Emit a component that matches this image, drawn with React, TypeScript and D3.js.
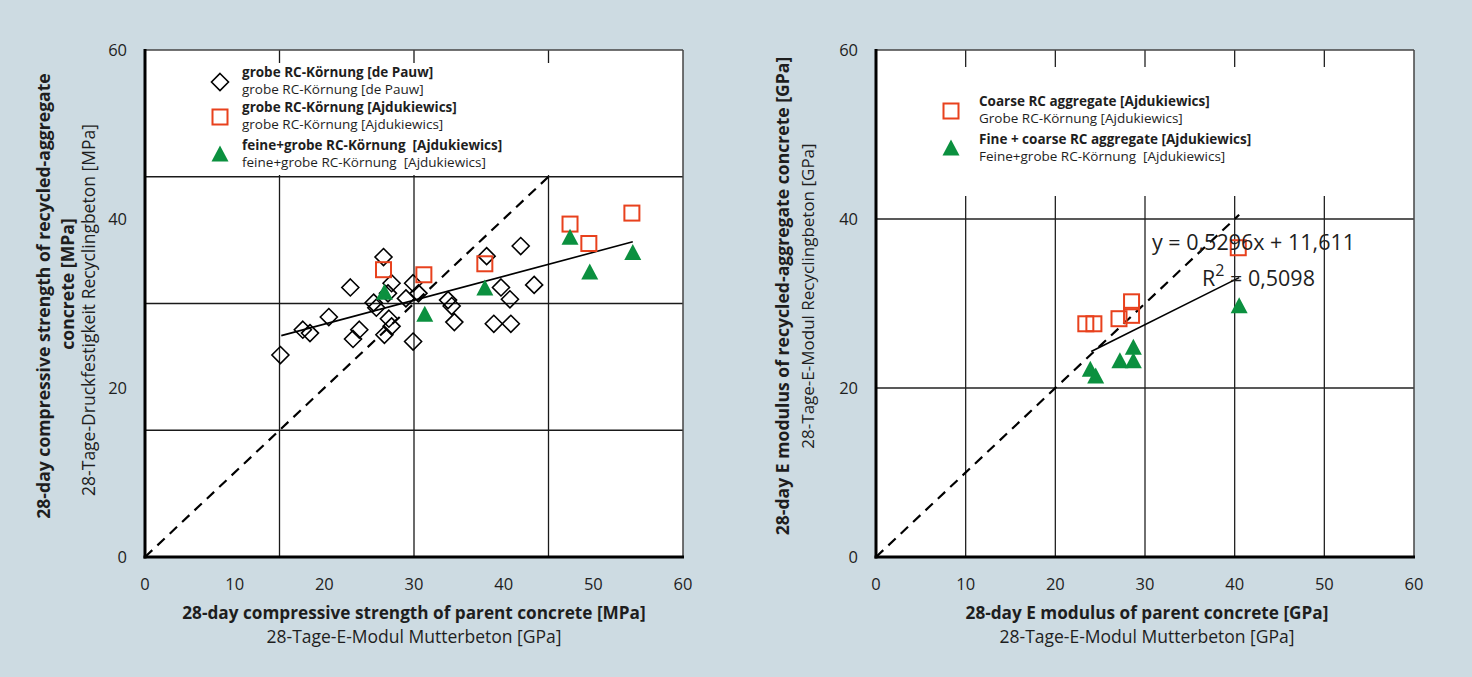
import React from "react";
import * as d3 from "d3";

// ---------- data ----------
// Left chart: 28-day compressive strength, parent vs recycled concrete [MPa]
const leftDePauw: [number, number][] = [
  [15.1, 23.9], [17.6, 26.9], [18.4, 26.5], [20.5, 28.4], [22.9, 31.9],
  [23.2, 25.8], [23.9, 26.9], [25.5, 30.1], [25.8, 29.5], [26.6, 35.5],
  [27.5, 32.4], [27.1, 31.2], [27.2, 28.2], [27.5, 27.3], [26.7, 26.3],
  [29.1, 30.6], [29.9, 32.4], [30.5, 31.2], [29.9, 25.5], [33.8, 30.4],
  [34.2, 29.7], [34.5, 27.8], [38.1, 35.6], [39.7, 31.9], [40.7, 30.5],
  [38.9, 27.6], [40.8, 27.6], [41.9, 36.8], [43.4, 32.2],
];
const leftCoarse: [number, number][] = [
  [26.6, 34.0], [31.1, 33.4], [37.9, 34.7], [47.4, 39.4], [49.5, 37.1], [54.3, 40.7],
];
const leftFineCoarse: [number, number][] = [
  [26.7, 31.2], [31.2, 28.6], [37.9, 31.7], [47.4, 37.7], [49.6, 33.6], [54.4, 35.9],
];
const leftTrend: [number, number][] = [[15.2, 26.2], [54.4, 37.3]];
const leftIdentity: [number, number][] = [[0, 0], [45, 45]];

// Right chart: 28-day E modulus [GPa]
const rightCoarse: [number, number][] = [
  [23.4, 27.6], [24.3, 27.6], [27.1, 28.2], [28.5, 30.2], [28.5, 28.6], [40.4, 36.6],
];
const rightFineCoarse: [number, number][] = [
  [23.9, 22.1], [24.5, 21.3], [27.2, 23.1], [28.7, 23.1], [28.7, 24.7], [40.5, 29.6],
];
const rightSlope = 0.5296;
const rightIntercept = 11.611;
const rightTrendX: [number, number] = [24, 40.5];
const rightIdentity: [number, number][] = [[0, 0], [40.5, 40.5]];

const xTicks = [0, 10, 20, 30, 40, 50, 60];
const yTicks = [0, 20, 40, 60];
const leftGrid = [15, 30, 45];
const rightGridX = [10, 20, 30, 40, 50];
const rightGridY = [20, 40];

const leftLegend = [
  { kind: "diamond", bold: "grobe RC-Körnung [de Pauw]", reg: "grobe RC-Körnung [de Pauw]" },
  { kind: "square", bold: "grobe RC-Körnung [Ajdukiewics]", reg: "grobe RC-Körnung [Ajdukiewics]" },
  { kind: "triangle", bold: "feine+grobe RC-Körnung  [Ajdukiewics]", reg: "feine+grobe RC-Körnung  [Ajdukiewics]" },
];
const rightLegend = [
  { kind: "square", bold: "Coarse RC aggregate [Ajdukiewics]", reg: "Grobe RC-Körnung [Ajdukiewics]" },
  { kind: "triangle", bold: "Fine + coarse RC aggregate [Ajdukiewics]", reg: "Feine+grobe RC-Körnung  [Ajdukiewics]" },
];

const FONT = "'Open Sans', Roboto, sans-serif";
const BG = "#cddbe2";
const RED = "#e8411d";
const GREEN = "#0b903f";
const TXT = "#1e1e1e";

function Marker({ kind, x, y }: { kind: string; x: number; y: number }) {
  if (kind === "diamond") {
    const r = 8.5;
    return (
      <path
        d={`M${x},${y - r}L${x + r},${y}L${x},${y + r}L${x - r},${y}Z`}
        fill="none"
        stroke="#000"
        strokeWidth={1.6}
      />
    );
  }
  if (kind === "square") {
    const s = 15;
    return <rect x={x - s / 2} y={y - s / 2} width={s} height={s} fill="none" stroke={RED} strokeWidth={2} />;
  }
  const w = 17, h = 16;
  return (
    <path
      d={`M${x},${y - h * 0.6}L${x + w / 2},${y + h * 0.4}L${x - w / 2},${y + h * 0.4}Z`}
      fill={GREEN}
    />
  );
}

type PanelProps = {
  x0: number;
  x1: number;
  y0: number;
  y1: number;
  gridX: number[];
  gridY: number[];
  gridColor: string;
  legendTop: number;
  legendBottom: number;
  children: (xs: d3.ScaleLinear<number, number>, ys: d3.ScaleLinear<number, number>) => React.ReactNode;
};

function Panel({ x0, x1, y0, y1, gridX, gridY, gridColor, legendTop, legendBottom, children }: PanelProps) {
  const xs = d3.scaleLinear().domain([0, 60]).range([x0, x1]);
  const ys = d3.scaleLinear().domain([0, 60]).range([y1, y0]);
  return (
    <g>
      <rect x={x0} y={y0} width={x1 - x0} height={y1 - y0} fill="#fff" />
      {gridX.map((g) => (
        <line key={"gx" + g} x1={xs(g)} x2={xs(g)} y1={y0} y2={y1} stroke={gridColor} strokeWidth={1.3} />
      ))}
      {gridY.map((g) => (
        <line key={"gy" + g} x1={x0} x2={x1} y1={ys(g)} y2={ys(g)} stroke={gridColor} strokeWidth={1.3} />
      ))}
      <rect x={x0 + 2} y={legendTop} width={x1 - x0 - 4} height={legendBottom - legendTop} fill="#fff" />
      {/* frame */}
      <line x1={x0} x2={x1} y1={y0} y2={y0} stroke="#444" strokeWidth={1.5} />
      <line x1={x1} x2={x1} y1={y0} y2={y1} stroke="#444" strokeWidth={1.5} />
      {children(xs, ys)}
      <line x1={x0} x2={x0} y1={y0 - 1} y2={y1 + 1.5} stroke="#000" strokeWidth={3} />
      <line x1={x0 - 1.5} x2={x1 + 1} y1={y1} y2={y1} stroke="#000" strokeWidth={3} />
      {xTicks.map((t) => (
        <text key={"xt" + t} x={xs(t)} y={590} textAnchor="middle" fontSize={16.5} fill={TXT} fontFamily={FONT}>
          {t}
        </text>
      ))}
      {yTicks.map((t) => (
        <text key={"yt" + t} x={x0 - 18} y={ys(t) + 6} textAnchor="end" fontSize={16.5} fill={TXT} fontFamily={FONT}>
          {t}
        </text>
      ))}
    </g>
  );
}

function Legend({ items, mx, tx, rows }: { items: typeof leftLegend; mx: number; tx: number; rows: number[] }) {
  return (
    <g fontFamily={FONT} fontSize={13.5} fill={TXT}>
      {items.map((it, i) => (
        <g key={i}>
          <Marker kind={it.kind} x={mx} y={rows[i] + 5} />
          <text x={tx} y={rows[i]} fontWeight="bold" xmlSpace="preserve">
            {it.bold}
          </text>
          <text x={tx} y={rows[i] + 16.5} xmlSpace="preserve">
            {it.reg}
          </text>
        </g>
      ))}
    </g>
  );
}

export default function App() {
  const line = d3.line<[number, number]>();
  return (
    <svg width={1472} height={677} style={{ position: "absolute", left: 0, top: 0 }}>
      <rect x={0} y={0} width={1472} height={677} fill={BG} />

      {/* LEFT PANEL */}
      <Panel x0={145} x1={683} y0={50} y1={557} gridX={leftGrid} gridY={leftGrid} gridColor="#1a1a1a" legendTop={63} legendBottom={175}>
        {(xs, ys) => (
          <g>
            <path
              d={line(leftIdentity.map(([a, b]) => [xs(a), ys(b)]) as [number, number][]) || ""}
              fill="none"
              stroke="#000"
              strokeWidth={2.2}
              strokeDasharray="10,7"
            />
            <path
              d={line(leftTrend.map(([a, b]) => [xs(a), ys(b)]) as [number, number][]) || ""}
              fill="none"
              stroke="#000"
              strokeWidth={1.6}
            />
            {leftDePauw.map(([a, b], i) => (
              <Marker key={"d" + i} kind="diamond" x={xs(a)} y={ys(b)} />
            ))}
            {leftCoarse.map(([a, b], i) => (
              <Marker key={"s" + i} kind="square" x={xs(a)} y={ys(b)} />
            ))}
            {leftFineCoarse.map(([a, b], i) => (
              <Marker key={"t" + i} kind="triangle" x={xs(a)} y={ys(b)} />
            ))}
          </g>
        )}
      </Panel>
      <Legend items={leftLegend} mx={220} tx={242} rows={[77, 112, 150]} />

      {/* RIGHT PANEL */}
      <Panel x0={876} x1={1414} y0={50} y1={557} gridX={rightGridX} gridY={rightGridY} gridColor="#222" legendTop={67} legendBottom={196}>
        {(xs, ys) => (
          <g>
            <path
              d={line(rightIdentity.map(([a, b]) => [xs(a), ys(b)]) as [number, number][]) || ""}
              fill="none"
              stroke="#000"
              strokeWidth={2.2}
              strokeDasharray="10,7"
            />
            <path
              d={
                line(
                  rightTrendX.map((a) => [xs(a), ys(rightSlope * a + rightIntercept)]) as [number, number][]
                ) || ""
              }
              fill="none"
              stroke="#000"
              strokeWidth={1.6}
            />
            {rightCoarse.map(([a, b], i) => (
              <Marker key={"s" + i} kind="square" x={xs(a)} y={ys(b)} />
            ))}
            {rightFineCoarse.map(([a, b], i) => (
              <Marker key={"t" + i} kind="triangle" x={xs(a)} y={ys(b)} />
            ))}
            <text x={1152} y={250} fontSize={21.5} fill={TXT} fontFamily={FONT}>
              y = 0,5296x + 11,611
            </text>
            <text x={1202} y={286} fontSize={21.5} fill={TXT} fontFamily={FONT}>
              R
              <tspan dy={-10} fontSize={16}>2</tspan>
              <tspan dy={10}> = 0,5098</tspan>
            </text>
          </g>
        )}
      </Panel>
      <Legend items={rightLegend} mx={951} tx={979} rows={[106, 144]} />

      {/* axis titles */}
      <g fontFamily={FONT} fill={TXT} textAnchor="middle">
        <text x={414} y={619} fontSize={17.2} fontWeight="bold">
          28-day compressive strength of parent concrete [MPa]
        </text>
        <text x={414} y={643} fontSize={17.5}>
          28-Tage-E-Modul Mutterbeton [GPa]
        </text>
        <text x={1147} y={619} fontSize={17.2} fontWeight="bold">
          28-day E modulus of parent concrete [GPa]
        </text>
        <text x={1147} y={643} fontSize={17.5}>
          28-Tage-E-Modul Mutterbeton [GPa]
        </text>

        <g transform="translate(50,296) rotate(-90)">
          <text x={0} y={0} fontSize={17.6} fontWeight="bold">
            28-day compressive strength of recycled-aggregate
          </text>
          <text x={12} y={24} fontSize={17.6} fontWeight="bold">
            concrete [MPa]
          </text>
        </g>
        <text transform="translate(95,310) rotate(-90)" fontSize={17.5}>
          28-Tage-Druckfestigkeit Recyclingbeton [MPa]
        </text>

        <g transform="translate(789,296) rotate(-90)">
          <text x={0} y={0} fontSize={17.6} fontWeight="bold">
            28-day E modulus of recycled-aggregate concrete [GPa]
          </text>
          <text x={0} y={25} fontSize={17}>
            28-Tage-E-Modul Recyclingbeton [GPa]
          </text>
        </g>
      </g>
    </svg>
  );
}
